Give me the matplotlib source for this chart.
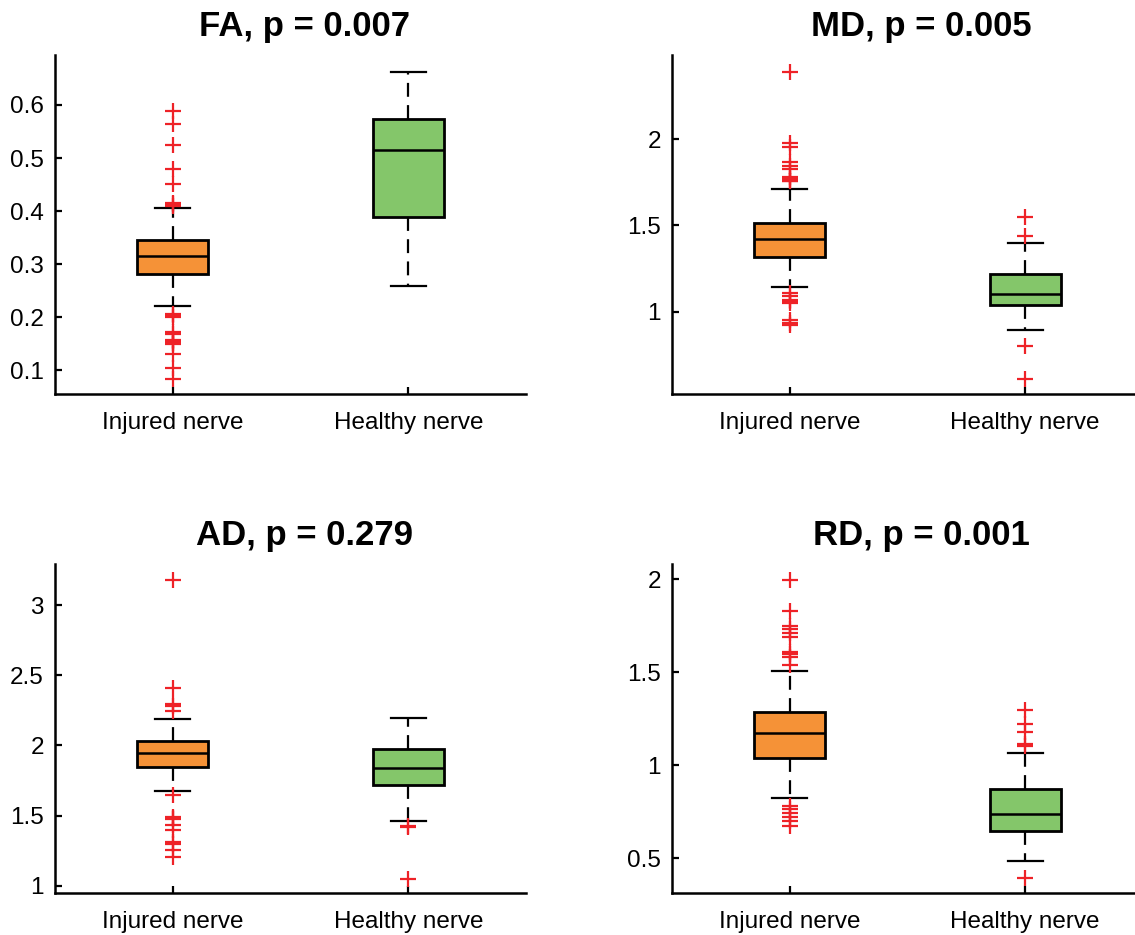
"""Box plots of diffusion metrics, injured vs healthy nerve."""

import matplotlib

matplotlib.use("Agg")

import matplotlib.pyplot as plt

plt.rcParams["font.family"] = ["Liberation Sans", "DejaVu Sans"]
plt.rcParams["lines.scale_dashes"] = False

groups = ["Injured nerve", "Healthy nerve"]
titles = ["FA, p = 0.007", "MD, p = 0.005", "AD, p = 0.279", "RD, p = 0.001"]

# per-metric box summaries: [injured, healthy]
fa_q1 = [0.281, 0.388]
fa_med = [0.3145, 0.516]
fa_q3 = [0.345, 0.5735]
fa_lo = [0.2205, 0.259]
fa_hi = [0.406, 0.6615]
fa_out = [
    [0.589, 0.564, 0.525, 0.479, 0.451, 0.416, 0.413, 0.410,
     0.207, 0.204, 0.201, 0.1715, 0.169, 0.158, 0.155, 0.152, 0.150,
     0.131, 0.104, 0.084],
    [],
]

md_q1 = [1.320, 1.041]
md_med = [1.423, 1.100]
md_q3 = [1.517, 1.218]
md_lo = [1.145, 0.896]
md_hi = [1.714, 1.400]
md_out = [
    [2.388, 1.977, 1.952, 1.865, 1.842, 1.826, 1.78, 1.77, 1.76, 1.755,
     1.11, 1.09, 1.07, 1.06, 1.05, 0.95, 0.935, 0.925],
    [1.548, 1.440, 0.799, 0.612],
]

ad_q1 = [1.845, 1.719]
ad_med = [1.945, 1.838]
ad_q3 = [2.033, 1.976]
ad_lo = [1.676, 1.462]
ad_hi = [2.186, 2.195]
ad_out = [
    [3.179, 2.412, 2.293, 2.281, 2.245,
     1.643, 1.49, 1.485, 1.478, 1.436, 1.398, 1.310, 1.298, 1.255, 1.207],
    [1.426, 1.417, 1.048],
]

rd_q1 = [1.039, 0.647]
rd_med = [1.172, 0.739]
rd_q3 = [1.287, 0.874]
rd_lo = [0.822, 0.484]
rd_hi = [1.508, 1.064]
rd_out = [
    [1.996, 1.831, 1.749, 1.734, 1.713, 1.688, 1.612, 1.598, 1.580, 1.538,
     0.782, 0.764, 0.743, 0.721, 0.703, 0.671],
    [1.296, 1.222, 1.179, 1.116, 1.102, 0.392],
]

ylims = [(0.0555, 0.694), (0.523, 2.488), (0.948, 3.293), (0.313, 2.083)]
yticks = [
    [0.1, 0.2, 0.3, 0.4, 0.5, 0.6],
    [1, 1.5, 2],
    [1, 1.5, 2, 2.5, 3],
    [0.5, 1, 1.5, 2],
]

metrics = [
    (fa_q1, fa_med, fa_q3, fa_lo, fa_hi, fa_out),
    (md_q1, md_med, md_q3, md_lo, md_hi, md_out),
    (ad_q1, ad_med, ad_q3, ad_lo, ad_hi, ad_out),
    (rd_q1, rd_med, rd_q3, rd_lo, rd_hi, rd_out),
]

box_colors = ["#F59237", "#84C66A"]

W, H = 1135, 935
# axes rectangles in pixels: left, top, right, bottom
rects = [
    (55, 55, 526, 394),
    (672, 55, 1143, 394),
    (55, 564, 526, 893),
    (672, 564, 1143, 893),
]

fig = plt.figure(figsize=(W / 100, H / 100), dpi=100)

for (l, t, r, b), title, metric, ylim, ticks in zip(rects, titles, metrics, ylims, yticks):
    ax = fig.add_axes([l / W, (H - b) / H, (r - l) / W, (b - t) / H])
    q1, med, q3, lo, hi, out = metric
    stats = [
        dict(q1=q1[i], med=med[i], q3=q3[i], whislo=lo[i], whishi=hi[i],
             fliers=out[i], label=groups[i])
        for i in range(len(groups))
    ]
    bp = ax.bxp(
        stats,
        positions=[1, 2],
        widths=0.3,
        capwidths=0.15,
        patch_artist=True,
        boxprops=dict(linewidth=2.0, edgecolor="black"),
        medianprops=dict(color="black", linewidth=1.8),
        whiskerprops=dict(color="black", linewidth=1.6, linestyle=(0, (10, 6))),
        capprops=dict(color="black", linewidth=1.6),
        flierprops=dict(marker="+", markersize=11, markeredgewidth=1.6,
                        markeredgecolor="#EE2227", linestyle="none"),
    )
    for patch, c in zip(bp["boxes"], box_colors):
        patch.set_facecolor(c)

    ax.set_xlim(0.5, 2.5)
    ax.set_ylim(*ylim)
    ax.set_yticks(ticks)
    ax.set_yticklabels([f"{v:g}" for v in ticks])
    ax.set_xticks([1, 2])
    ax.set_xticklabels(groups)
    for side in ("top", "right"):
        ax.spines[side].set_visible(False)
    for side in ("left", "bottom"):
        ax.spines[side].set_linewidth(1.8)
    ax.tick_params(direction="in", length=5, width=1.6, labelsize=17.5)
    ax.tick_params(axis="y", pad=8)
    ax.tick_params(axis="x", pad=13)
    ax.set_title(title, fontsize=25, fontweight="bold", pad=14,
                 x=0.5 + 14 / (r - l))

fig.savefig("out.png", dpi=100)
plt.close(fig)
